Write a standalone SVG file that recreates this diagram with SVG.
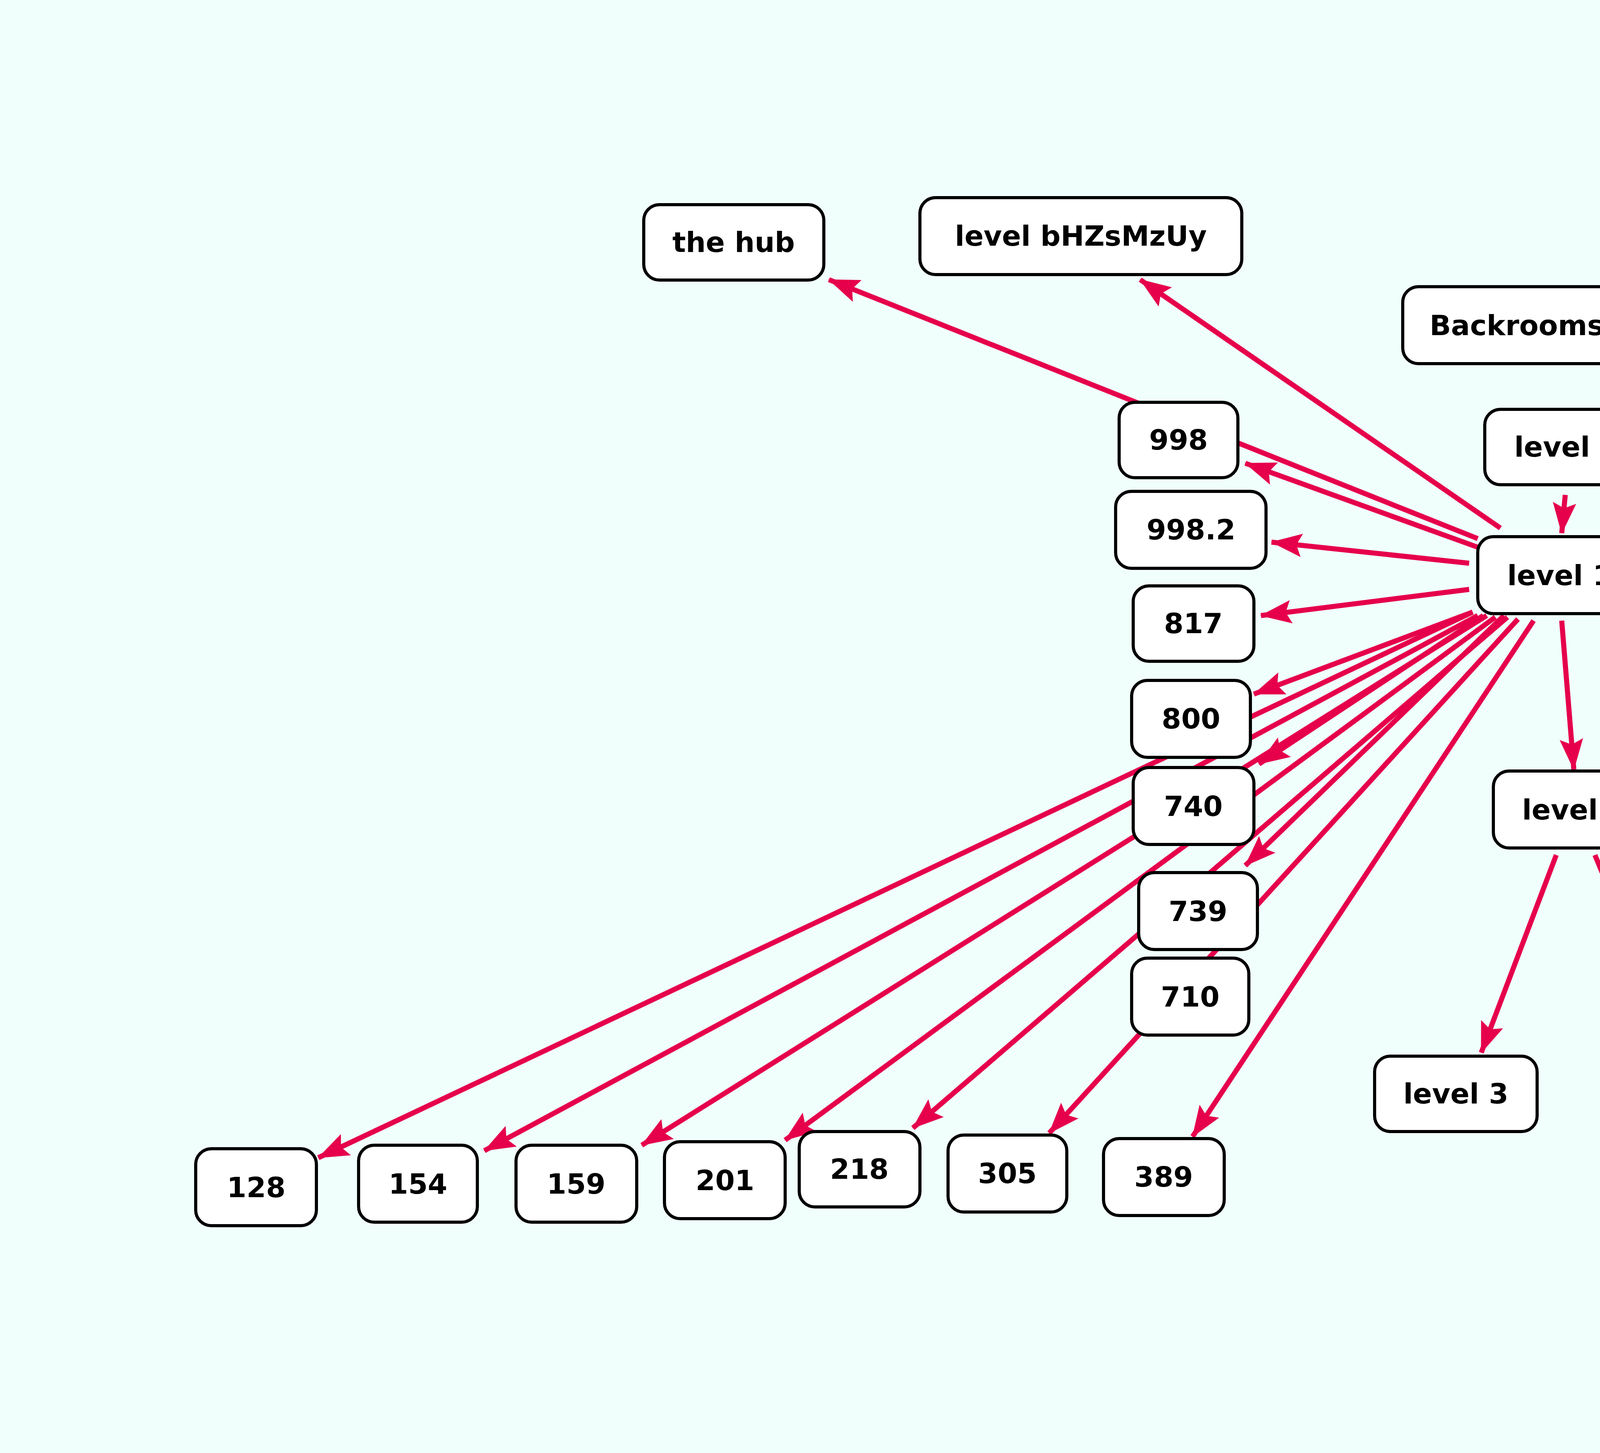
<svg xmlns="http://www.w3.org/2000/svg" width="7020" height="3720" viewBox="0 0 7020 3720">
<defs>
<marker id="ah" markerUnits="userSpaceOnUse" markerWidth="84" markerHeight="60" refX="78" refY="30" orient="auto" viewBox="0 0 84 60">
<path d="M0,0 L80,30 L0,60 L14,30 Z" fill="#E6004C"/>
</marker>
<style>
.n rect{fill:#fff;stroke:#000;stroke-width:8}
.n text{font-family:"DejaVu Sans",Verdana,sans-serif;font-weight:bold;font-size:72px;text-anchor:middle;dominant-baseline:central;fill:#000}
#edges line{stroke:#E6004C;stroke-width:13;marker-end:url(#ah)}
</style>
</defs>
<rect width="7020" height="3720" fill="#F0FFFC"/>
<g id="edges">
<line x1="4007" y1="1267" x2="3998" y2="1365"/>
<line x1="3783" y1="1379" x2="2122" y2="716"/>
<line x1="3841" y1="1352" x2="2919" y2="716"/>
<line x1="3783" y1="1401" x2="3188" y2="1186"/>
<line x1="3761" y1="1442" x2="3255" y2="1388"/>
<line x1="3761" y1="1509" x2="3228" y2="1576"/>
<line x1="3770" y1="1567" x2="3210" y2="1777"/>
<line x1="3797" y1="1576" x2="3223" y2="1956"/>
<line x1="3850" y1="1576" x2="3188" y2="2216"/>
<line x1="3770" y1="1567" x2="815" y2="2964"/>
<line x1="3783" y1="1576" x2="1240" y2="2946"/>
<line x1="3806" y1="1576" x2="1643" y2="2932"/>
<line x1="3828" y1="1580" x2="2010" y2="2919"/>
<line x1="3859" y1="1580" x2="2337" y2="2888"/>
<line x1="3886" y1="1585" x2="2686" y2="2901"/>
<line x1="3926" y1="1589" x2="3053" y2="2910"/>
<line x1="3998" y1="1589" x2="4029" y2="1970"/>
<line x1="3984" y1="2189" x2="3792" y2="2695"/>
<line x1="4083" y1="2189" x2="4298" y2="2709"/>
<line x1="4204" y1="1468" x2="4258" y2="1488"/>
<line x1="4222" y1="1442" x2="4638" y2="1334"/>
<line x1="4222" y1="1415" x2="5077" y2="1142"/>
<line x1="4222" y1="1388" x2="5453" y2="922"/>
<line x1="4222" y1="1545" x2="6250" y2="2050"/>
<line x1="4222" y1="1558" x2="6228" y2="2270"/>
<line x1="4222" y1="1576" x2="6223" y2="2489"/>
<line x1="4177" y1="1589" x2="6196" y2="2794"/>
<line x1="4155" y1="1589" x2="6196" y2="3013"/>
</g>
<g id="hub" class="n"><rect x="1648" y="524" width="461" height="193" rx="40"/><text x="1878" y="620">the hub</text></g>
<g id="bhz" class="n"><rect x="2355" y="506" width="824" height="197" rx="40"/><text x="2767" y="604">level bHZsMzUy</text></g>
<g id="exits" class="n"><rect x="3591" y="734" width="806" height="197" rx="40"/><text x="3994" y="833">Backrooms exits</text></g>
<g id="sqrt2" class="n"><rect x="5457" y="721" width="381" height="197" rx="40"/><text x="5648" y="819">level √2</text></g>
<g id="n15" class="n"><rect x="5081" y="994" width="282" height="197" rx="40"/><text x="5222" y="1092">1.5</text></g>
<g id="l0" class="n"><rect x="3801" y="1048" width="421" height="193" rx="40"/><text x="4011" y="1144">level 0</text></g>
<g id="n998" class="n"><rect x="2865" y="1030" width="304" height="193" rx="40"/><text x="3017" y="1126">998</text></g>
<g id="n12" class="n"><rect x="4638" y="1204" width="282" height="197" rx="40"/><text x="4779" y="1303">1.2</text></g>
<g id="n9982" class="n"><rect x="2856" y="1258" width="385" height="197" rx="40"/><text x="3049" y="1356">998.2</text></g>
<g id="l1" class="n"><rect x="3783" y="1374" width="421" height="197" rx="40"/><text x="3993" y="1473">level 1</text></g>
<g id="n11" class="n"><rect x="4262" y="1397" width="287" height="193" rx="40"/><text x="4405" y="1493">1.1</text></g>
<g id="n817" class="n"><rect x="2901" y="1500" width="309" height="193" rx="40"/><text x="3055" y="1596">817</text></g>
<g id="n800" class="n"><rect x="2897" y="1742" width="304" height="197" rx="40"/><text x="3049" y="1840">800</text></g>
<g id="n740" class="n"><rect x="2901" y="1965" width="309" height="197" rx="40"/><text x="3055" y="2064">740</text></g>
<g id="l2" class="n"><rect x="3823" y="1974" width="416" height="197" rx="40"/><text x="4031" y="2073">level 2</text></g>
<g id="n739" class="n"><rect x="2915" y="2234" width="304" height="197" rx="40"/><text x="3067" y="2333">739</text></g>
<g id="n710" class="n"><rect x="2897" y="2453" width="300" height="197" rx="40"/><text x="3047" y="2552">710</text></g>
<g id="n19" class="n"><rect x="6254" y="1983" width="255" height="197" rx="40"/><text x="6382" y="2082">19</text></g>
<g id="n22" class="n"><rect x="6236" y="2207" width="255" height="197" rx="40"/><text x="6364" y="2306">22</text></g>
<g id="n24" class="n"><rect x="6236" y="2444" width="255" height="197" rx="40"/><text x="6364" y="2543">24</text></g>
<g id="n38" class="n"><rect x="6205" y="2767" width="255" height="197" rx="40"/><text x="6333" y="2865">38</text></g>
<g id="n57" class="n"><rect x="6201" y="3022" width="255" height="193" rx="40"/><text x="6328" y="3118">57</text></g>
<g id="l3" class="n"><rect x="3519" y="2704" width="416" height="193" rx="40"/><text x="3727" y="2800">level 3</text></g>
<g id="l4" class="n"><rect x="4123" y="2713" width="416" height="197" rx="40"/><text x="4331" y="2811">level 4</text></g>
<g id="n128" class="n"><rect x="501" y="2941" width="309" height="197" rx="40"/><text x="656" y="3040">128</text></g>
<g id="n154" class="n"><rect x="918" y="2932" width="304" height="197" rx="40"/><text x="1070" y="3031">154</text></g>
<g id="n159" class="n"><rect x="1321" y="2932" width="309" height="197" rx="40"/><text x="1475" y="3031">159</text></g>
<g id="n201" class="n"><rect x="1701" y="2923" width="309" height="197" rx="40"/><text x="1856" y="3022">201</text></g>
<g id="n218" class="n"><rect x="2046" y="2897" width="309" height="193" rx="40"/><text x="2200" y="2993">218</text></g>
<g id="n305" class="n"><rect x="2427" y="2906" width="304" height="197" rx="40"/><text x="2579" y="3004">305</text></g>
<g id="n389" class="n"><rect x="2825" y="2915" width="309" height="197" rx="40"/><text x="2979" y="3013">389</text></g>
</svg>
